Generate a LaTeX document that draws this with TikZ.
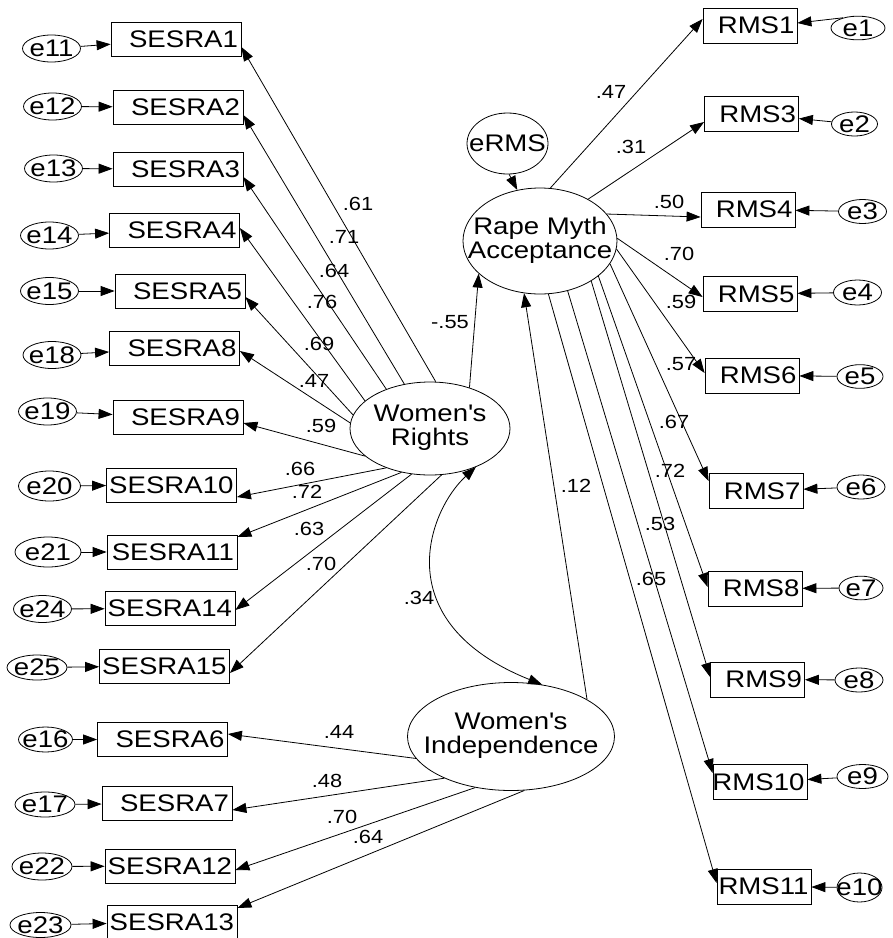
\documentclass[tikz,border=0pt]{standalone}
\usepackage{fontspec}
\setmainfont[FakeStretch=1.15]{Liberation Sans}
\usetikzlibrary{shapes.geometric,arrows.meta}
\newcommand\lbx[1]{\makebox[124pt][r]{#1}}
\newcommand\rbx[1]{\makebox[89pt][r]{#1}}
\begin{document}
\begin{tikzpicture}[x=1pt,y=-1pt,
  ln/.style={line width=0.8pt},
  arr/.style={ln,-{Triangle[length=14pt,width=10pt]}},
  lobs/.style={draw,ln,rectangle,inner ysep=0pt,inner xsep=0pt,minimum height=34pt,minimum width=130pt,font=\fontsize{24}{25}\selectfont},
  robs/.style={draw,ln,rectangle,inner ysep=0pt,inner xsep=0pt,minimum height=35pt,minimum width=94pt,font=\fontsize{24}{25}\selectfont},
  lerr/.style={draw,ln,ellipse,inner sep=0pt,minimum width=58pt,minimum height=27pt,font=\fontsize{24}{25}\selectfont},
  rerr/.style={draw,ln,ellipse,inner sep=0pt,minimum width=48pt,minimum height=23pt,font=\fontsize{24}{25}\selectfont},
  lat/.style={draw,ln,ellipse,inner sep=0pt,font=\fontsize{24}{24}\selectfont},
  lbl/.style={inner sep=0pt,font=\fontsize{19}{20}\selectfont}]
\useasboundingbox[fill=white] (0,0) rectangle (893,938);

% left indicators
\node[lobs] (S1) at (176,39.5) {\lbx{SESRA1}};
\node[lobs] (S2) at (178,107) {\lbx{SESRA2}};
\node[lobs] (S3) at (178,169) {\lbx{SESRA3}};
\node[lobs] (S4) at (174.5,230.5) {\lbx{SESRA4}};
\node[lobs] (S5) at (180,291) {\lbx{SESRA5}};
\node[lobs] (S8) at (174.5,348.5) {\lbx{SESRA8}};
\node[lobs] (S9) at (178,417.5) {\lbx{SESRA9}};
\node[lobs] (S10) at (171.5,485) {\lbx{SESRA10}};
\node[lobs] (S11) at (172,552) {\lbx{SESRA11}};
\node[lobs] (S14) at (170,608.5) {\lbx{SESRA14}};
\node[lobs] (S15) at (164.5,666) {\lbx{SESRA15}};
\node[lobs] (S6) at (162.5,739.5) {\lbx{SESRA6}};
\node[lobs] (S7) at (167,803.5) {\lbx{SESRA7}};
\node[lobs] (S12) at (170,866) {\lbx{SESRA12}};
\node[lobs] (S13) at (172,922) {\lbx{SESRA13}};

% left errors
\node[lerr] (e11) at (51.5,48.5) {\makebox[0pt]{e11}};
\node[lerr] (e12) at (52.5,106.5) {\makebox[0pt]{e12}};
\node[lerr] (e13) at (53.5,168.5) {\makebox[0pt]{e13}};
\node[lerr] (e14) at (49.5,235.5) {\makebox[0pt]{e14}};
\node[lerr] (e15) at (49.5,291) {\makebox[0pt]{e15}};
\node[lerr] (e18) at (52,355) {\makebox[0pt]{e18}};
\node[lerr] (e19) at (47.5,411.5) {\makebox[0pt]{e19}};
\node[lerr,minimum width=62pt,minimum height=30pt] (e20) at (49.5,486) {\makebox[0pt]{e20}};
\node[lerr,minimum width=66pt,minimum height=30pt] (e21) at (48,552) {\makebox[0pt]{e21}};
\node[lerr] (e24) at (42.5,609) {\makebox[0pt]{e24}};
\node[lerr,minimum width=60pt,minimum height=25pt] (e25) at (37,667.5) {\makebox[0pt]{e25}};
\node[lerr,minimum width=54pt,minimum height=25pt] (e16) at (45.5,739.5) {\makebox[0pt]{e16}};
\node[lerr,minimum width=60pt,minimum height=25pt] (e17) at (45,804.5) {\makebox[0pt]{e17}};
\node[lerr,minimum width=60pt] (e22) at (42,866.5) {\makebox[0pt]{e22}};
\node[lerr,minimum width=61pt,minimum height=25pt] (e23) at (40.5,925) {\makebox[0pt]{e23}};

% right indicators
\node[robs] (R1) at (750,25.5) {\rbx{RMS1}};
\node[robs] (R3) at (751.5,114) {\rbx{RMS3}};
\node[robs] (R4) at (748,209.5) {\rbx{RMS4}};
\node[robs] (R5) at (750,294) {\rbx{RMS5}};
\node[robs] (R6) at (752,375.5) {\rbx{RMS6}};
\node[robs] (R7) at (756,491) {\rbx{RMS7}};
\node[robs] (R8) at (755,588.5) {\rbx{RMS8}};
\node[robs] (R9) at (757.5,679.5) {\rbx{RMS9}};
\node[robs] (R10) at (760,782) {\rbx{RMS10}};
\node[robs] (R11) at (764,886.5) {\rbx{RMS11}};

% right errors
\node[rerr,minimum width=54pt,minimum height=21pt] (e1) at (858,28) {\makebox[0pt]{e1}};
\node[rerr,minimum width=46pt] (e2) at (854.5,124) {\makebox[0pt]{e2}};
\node[rerr] (e3) at (862.5,211.5) {\makebox[0pt]{e3}};
\node[rerr,minimum height=25pt] (e4) at (857.5,292.5) {\makebox[0pt]{e4}};
\node[rerr,minimum width=46pt] (e5) at (860,376.5) {\makebox[0pt]{e5}};
\node[rerr,minimum height=22pt] (e6) at (861,487) {\makebox[0pt]{e6}};
\node[rerr,minimum width=44pt,minimum height=22pt] (e7) at (861,588) {\makebox[0pt]{e7}};
\node[rerr,minimum height=21pt] (e8) at (859,680) {\makebox[0pt]{e8}};
\node[rerr,minimum width=51pt] (e9) at (862.5,776.5) {\makebox[0pt]{e9}};
\node[rerr,minimum width=45pt,minimum height=29pt] (e10) at (859.5,887.5) {\makebox[0pt]{e10}};

% latent variables
\node[lat,minimum width=160pt,minimum height=93pt] (WR) at (430,428.5)
  {\makebox[0pt]{\begin{tabular}{@{}c@{}}Women\textquotesingle s\\[0pt]Rights\end{tabular}}};
\node[lat,minimum width=154pt,minimum height=106pt] (RMA) at (540,241)
  {\makebox[0pt]{\begin{tabular}{@{}c@{}}Rape Myth\\[0pt]Acceptance\end{tabular}}};
\node[lat,minimum width=207pt,minimum height=108pt] (WI) at (511,736.5)
  {\makebox[0pt]{\raisebox{3pt}{\begin{tabular}{@{}c@{}}Women\textquotesingle s\\[-1pt]Independence\end{tabular}}}};
\node[lat,minimum width=81pt,minimum height=61pt] (eRMS) at (507.5,143.5) {\makebox[0pt]{eRMS}};

% error arrows left
\foreach \e/\s in {e11/S1,e12/S2,e13/S3,e14/S4,e15/S5,e18/S8,e19/S9,e20/S10,e21/S11,e24/S14,e25/S15,e16/S6,e17/S7,e22/S12,e23/S13}
  \draw[arr] (\e) -- (\s);

% error arrows right
\draw[arr] (e1.146) -- ([yshift=2.5pt]R1.east);
\foreach \e/\s in {e2/R3,e3/R4,e4/R5,e5/R6,e6/R7,e7/R8,e8/R9,e9/R10,e10/R11}
  \draw[arr] (\e) -- (\s);

% Women's Rights loadings
\draw[arr] (WR.83.7) -- ([yshift=-7.5pt]S1.east);
\draw[arr] (WR.120.6) -- ([yshift=-8pt]S2.east);
\draw[arr] (WR.138.7) -- ([yshift=-8pt]S3.east);
\draw[arr] (WR.157.3) -- ([yshift=2.5pt]S4.east);
\draw[arr] (WR.170.3) -- ([yshift=-6pt]S5.east);
\draw[arr] (WR.176) -- ([yshift=-2.5pt]S8.east);
\draw[arr] (WR.203) -- ([yshift=-5.5pt]S9.east);
\draw[arr] (WR.222.6) -- ([yshift=-12pt]S10.east);
\draw[arr] (WR.237.8) -- ([yshift=15pt]S11.east);
\draw[arr] (WR.248.8) -- ([yshift=-1.5pt]S14.east);
\draw[arr] (WR.284.5) -- ([yshift=-7pt]S15.east);

% Women's Independence loadings
\draw[arr] (WI.193.5) -- ([yshift=5.5pt]S6.east);
\draw[arr] (WI.212.2) -- ([yshift=-6.5pt]S7.east);
\draw[arr] (WI.235.3) -- ([yshift=-4pt]S12.east);
\draw[arr] (WI.284.7) -- ([yshift=14pt]S13.east);

% Rape Myth Acceptance loadings
\draw[arr] (RMA.79.3) -- ([yshift=6.5pt]R1.west);
\draw[arr] (RMA.41.9) -- ([yshift=-8pt]R3.west);
\draw[arr] (RMA.22.7) -- ([yshift=-7.5pt]R4.west);
\draw[arr] (RMA.2.2) -- ([yshift=-3pt]R5.west);
\draw[arr] (RMA.-6.8) -- ([yshift=2.5pt]R6.west);
\draw[arr] (RMA.-18.4) -- ([yshift=10pt]R7.west);
\draw[arr] (RMA.-31) -- ([yshift=1.5pt]R8.west);
\draw[arr] (RMA.-38.3) -- ([yshift=2.5pt]R9.west);
\draw[arr] (RMA.-61.1) -- ([yshift=9pt]R10.west);
\draw[arr] (RMA.-81.3) -- ([yshift=3.5pt]R11.west);

% structural paths
\draw[arr] (eRMS.-87) -- (RMA.114.7);
\draw[arr] (WR.46.8) -- (RMA.208);
\draw[arr] (WI.26.9) -- (RMA.253.9);
\draw[ln,{Triangle[length=14pt,width=10pt]}-{Triangle[length=14pt,width=10pt]}]
  (WR.320.7) .. controls +(-47,43) and +(-157,-63) .. (WI.59.9);

% labels
\node[lbl] at (358,204) {.61};
\node[lbl] at (344,237) {.71};
\node[lbl] at (334,271) {.64};
\node[lbl] at (322,302) {.76};
\node[lbl] at (319,344) {.69};
\node[lbl] at (314,381) {.47};
\node[lbl] at (321,426) {.59};
\node[lbl] at (300,469) {.66};
\node[lbl] at (307,492) {.72};
\node[lbl] at (309,529) {.63};
\node[lbl] at (321,564) {.70};
\node[lbl] at (419,598) {.34};
\node[lbl] at (576,486) {.12};
\node[lbl] at (339,732) {.44};
\node[lbl] at (327,781) {.48};
\node[lbl] at (342,817) {.70};
\node[lbl] at (368,837) {.64};
\node[lbl] at (450,322) {-.55};
\node[lbl] at (611,92) {.47};
\node[lbl] at (631,147) {.31};
\node[lbl] at (669,202) {.50};
\node[lbl] at (679,254) {.70};
\node[lbl] at (681,302) {.59};
\node[lbl] at (681,364) {.57};
\node[lbl] at (674,422) {.67};
\node[lbl] at (670,471) {.72};
\node[lbl] at (660,524) {.53};
\node[lbl] at (651,579) {.65};
\end{tikzpicture}
\end{document}
